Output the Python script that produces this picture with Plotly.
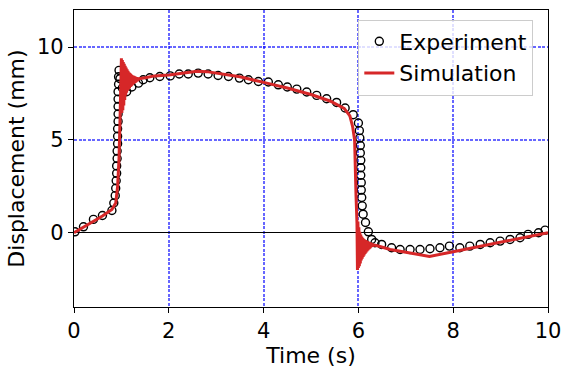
import plotly.graph_objects as go

# Experiment data (time s, displacement mm)
exp_t = [0.02, 0.2, 0.41, 0.6, 0.8, 0.84, 0.87, 0.88, 0.89, 0.9, 0.9, 0.91, 0.91, 0.92, 0.92,
         0.92, 0.93, 0.93, 0.93, 0.93, 0.93, 0.94, 0.94, 0.95, 0.97, 1.02, 1.11, 1.22, 1.36,
         1.46, 1.6, 1.81, 2.03, 2.22, 2.41, 2.62, 2.83, 3.04, 3.26, 3.49, 3.68, 3.89, 4.1,
         4.31, 4.5, 4.7, 4.91, 5.12, 5.33, 5.54, 5.72, 5.89, 6.0, 6.02, 6.03, 6.04, 6.04,
         6.05, 6.05, 6.05, 6.06, 6.06, 6.07, 6.08, 6.1, 6.15, 6.21, 6.28, 6.35, 6.49, 6.7,
         6.88, 7.09, 7.3, 7.51, 7.72, 7.92, 8.14, 8.35, 8.57, 8.78, 8.99, 9.2, 9.41, 9.58,
         9.8, 9.94]
exp_y = [0.05, 0.32, 0.72, 0.93, 1.2, 1.6, 2.0, 2.4, 2.8, 3.2, 3.6, 4.0, 4.4, 4.8, 5.2,
         5.6, 6.0, 6.4, 6.8, 7.2, 7.6, 8.0, 8.4, 8.75, 8.3, 7.8, 7.6, 7.85, 8.06,
         8.24, 8.35, 8.42, 8.45, 8.55, 8.55, 8.6, 8.55, 8.47, 8.42, 8.33, 8.24, 8.15, 8.12,
         7.97, 7.85, 7.74, 7.58, 7.4, 7.22, 7.02, 6.72, 6.36, 5.91, 5.5, 5.1, 4.7, 4.3,
         3.9, 3.5, 3.1, 2.7, 2.3, 1.9, 1.45, 1.0, 0.55, 0.05, -0.36, -0.54, -0.63, -0.81,
         -0.9, -0.9, -0.9, -0.86, -0.81, -0.72, -0.81, -0.72, -0.63, -0.54, -0.45, -0.36, -0.27, -0.09,
         0.0, 0.14]

# Simulation data (time s, displacement mm), including numerical ringing at the steps
sim_t = [0.0, 0.2, 0.4, 0.6, 0.8, 0.88, 0.92, 0.95, 0.97, 0.99,
         1.00, 1.01, 1.02, 1.03, 1.04, 1.05, 1.06, 1.07, 1.08, 1.09,
         1.10, 1.11, 1.12, 1.13, 1.14, 1.15, 1.16, 1.17, 1.18, 1.19,
         1.20, 1.21, 1.22, 1.23, 1.24, 1.25, 1.26, 1.27, 1.28, 1.29,
         1.30, 1.31, 1.32, 1.33, 1.34, 1.35, 1.37, 1.5, 1.7, 2.0,
         2.3, 2.6, 2.8, 3.0, 3.5, 4.0, 4.5, 5.0, 5.4, 5.7,
         5.82, 5.88, 5.92, 5.95, 5.97,
         5.98, 5.99, 6.00, 6.01, 6.02, 6.03, 6.04, 6.05, 6.06, 6.07,
         6.08, 6.09, 6.10, 6.11, 6.12, 6.13, 6.14, 6.15, 6.16, 6.17,
         6.18, 6.19, 6.20, 6.21, 6.22, 6.23, 6.24, 6.25, 6.26, 6.27,
         6.28, 6.29, 6.30, 6.32, 6.4, 6.67, 7.0, 7.5, 8.0, 9.0, 10.0]
sim_y = [0.0, 0.3, 0.6, 0.9, 1.25, 1.6, 2.5, 4.0, 6.0, 8.0,
         9.4, 6.45, 9.3, 6.6, 9.2, 6.85, 9.1, 7.15, 9.0, 7.4,
         8.9, 7.55, 8.8, 7.65, 8.72, 7.72, 8.65, 7.78, 8.6, 7.85,
         8.55, 7.9, 8.5, 7.95, 8.47, 8.0, 8.45, 8.05, 8.42, 8.08,
         8.4, 8.12, 8.38, 8.16, 8.36, 8.2, 8.3, 8.35, 8.45, 8.5,
         8.62, 8.7, 8.68, 8.6, 8.4, 8.1, 7.8, 7.45, 7.1, 6.7,
         6.3, 5.7, 5.0, 2.0, 0.5,
         -2.0, 0.6, -1.9, 0.3, -1.8, 0.05, -1.65, -0.1, -1.5, -0.2,
         -1.4, -0.27, -1.3, -0.32, -1.22, -0.36, -1.14, -0.39, -1.07, -0.42,
         -1.0, -0.45, -0.95, -0.47, -0.9, -0.5, -0.85, -0.52, -0.8, -0.55,
         -0.76, -0.58, -0.72, -0.65, -0.7, -0.9, -1.05, -1.28, -1.02, -0.52, 0.0]

x_ticks = [0, 2, 4, 6, 8, 10]
y_ticks = [0, 5, 10]

FONT = "DejaVu Sans"

fig = go.Figure()
fig.add_trace(go.Scatter(
    x=exp_t, y=exp_y, mode="markers", name="Experiment",
    marker=dict(symbol="circle-open", size=8, color="black", line=dict(width=1.4)),
))
fig.add_trace(go.Scatter(
    x=sim_t, y=sim_y, mode="lines", name="Simulation",
    line=dict(color="#d62728", width=3),
))

axis_common = dict(
    showline=True, linecolor="black", linewidth=1.2, mirror=True,
    ticks="outside", ticklen=5, tickwidth=1.2, tickcolor="black",
    showgrid=True, gridcolor="rgba(0,0,255,0.6)", gridwidth=1.5, griddash="3px,1.5px",
    tickfont=dict(family=FONT, size=21, color="black"),
    automargin=False,
)

fig.update_layout(
    width=572, height=372,
    margin=dict(l=74, r=24, t=10, b=65),
    plot_bgcolor="white", paper_bgcolor="white",
    font=dict(family=FONT, color="black"),
    xaxis=dict(range=[0, 10], tickvals=x_ticks, zeroline=False,
               title=dict(text="Time (s)", font=dict(family=FONT, size=22), standoff=0),
               **axis_common),
    yaxis=dict(range=[-4, 12], tickvals=y_ticks, zeroline=True, zerolinecolor="black",
               zerolinewidth=1.2,
               title=dict(text="Displacement (mm)", font=dict(family=FONT, size=22), standoff=6),
               **axis_common),
    legend=dict(x=0.969, y=0.968, xanchor="right", yanchor="top",
                bgcolor="rgba(255,255,255,0.8)", bordercolor="#cccccc", borderwidth=1,
                font=dict(family=FONT, size=22, color="black")),
    showlegend=True,
)

fig.write_html("out.html", config={"displayModeBar": False},
               post_script="document.body.style.margin='0';")
